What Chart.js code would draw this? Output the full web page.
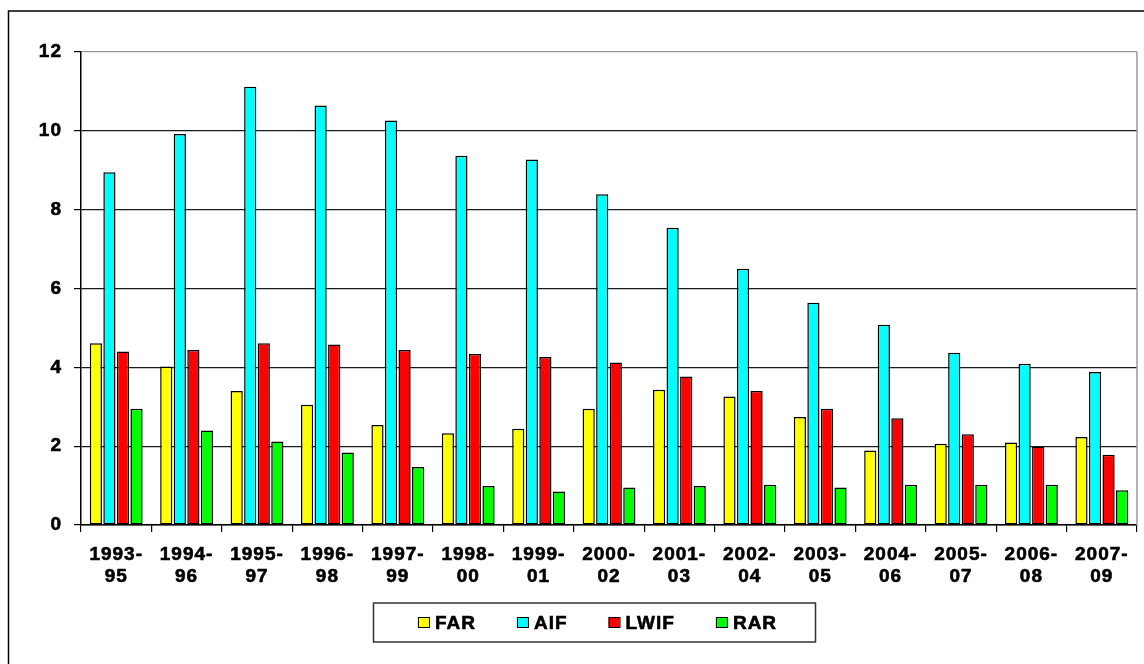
<!DOCTYPE html>
<html>
<head>
<meta charset="utf-8">
<script src="https://cdn.jsdelivr.net/npm/chart.js@4.4.1/dist/chart.umd.min.js"></script>
<style>
  html, body { margin: 0; padding: 0; background: #fff; }
  canvas { display: block; }
</style>
</head>
<body>
<canvas id="c" width="1144" height="664"></canvas>
<script>
// Periods (two-line tick labels)
const periods = [
  ['1993-', '95'], ['1994-', '96'], ['1995-', '97'], ['1996-', '98'], ['1997-', '99'],
  ['1998-', '00'], ['1999-', '01'], ['2000-', '02'], ['2001-', '03'], ['2002-', '04'],
  ['2003-', '05'], ['2004-', '06'], ['2005-', '07'], ['2006-', '08'], ['2007-', '09']
];

// Series values
const far  = [4.61, 4.02, 3.40, 3.05, 2.54, 2.33, 2.44, 2.95, 3.43, 3.26, 2.74, 1.89, 2.06, 2.09, 2.23];
const aif  = [8.95, 9.92, 11.12, 10.64, 10.26, 9.37, 9.27, 8.39, 7.54, 6.50, 5.64, 5.08, 4.37, 4.09, 3.88];
const lwif = [4.40, 4.44, 4.61, 4.58, 4.44, 4.34, 4.26, 4.12, 3.77, 3.40, 2.95, 2.71, 2.30, 1.99, 1.78];
const rar  = [2.95, 2.40, 2.12, 1.84, 1.47, 0.99, 0.85, 0.95, 0.99, 1.02, 0.95, 1.02, 1.02, 1.02, 0.88];

// Value axis ticks
const yTicks = [0, 2, 4, 6, 8, 10, 12];

const FONT = '"Liberation Sans", Arial, sans-serif';
const FSIZE = 19;
const SPACING = '1px';

function ds(label, data, color) {
  return {
    label, data,
    backgroundColor: color,
    borderColor: '#000',
    borderWidth: 1.5,
    borderSkipped: false,
    categoryPercentage: 0.77,
    barPercentage: 0.9
  };
}

// Frame, plot border, letter spacing and boxed legend
const decor = {
  id: 'decor',
  beforeDraw(chart) {
    chart.ctx.letterSpacing = SPACING;
  },
  afterDatasetsDraw(chart) {
    const { ctx, chartArea: a } = chart;
    ctx.save();
    ctx.strokeStyle = '#9a9a9a';
    ctx.lineWidth = 1.5;
    ctx.beginPath();
    ctx.moveTo(a.right, a.top);
    ctx.lineTo(a.right, a.bottom);
    ctx.stroke();
    ctx.restore();
  },
  afterDraw(chart) {
    const ctx = chart.ctx;
    ctx.save();
    // outer frame
    ctx.strokeStyle = '#000';
    ctx.lineWidth = 1.5;
    ctx.strokeRect(8.5, 11, 1200, 700);

    // legend box
    const box = { left: 373.5, top: 603, right: 815.5, bottom: 642 };
    ctx.strokeStyle = '#333';
    ctx.lineWidth = 1.5;
    ctx.strokeRect(box.left, box.top, box.right - box.left, box.bottom - box.top);

    ctx.font = 'bold ' + FSIZE + 'px ' + FONT;
    ctx.letterSpacing = SPACING;
    ctx.textBaseline = 'middle';
    ctx.textAlign = 'left';
    const sw = 11, gapIn = 6, gapOut = 41;
    const items = chart.data.datasets.map(d => ({ label: d.label, color: d.backgroundColor, w: ctx.measureText(d.label).width }));
    let total = 0;
    items.forEach((it, i) => { total += sw + gapIn + it.w + (i < items.length - 1 ? gapOut : 0); });
    let x = (box.left + box.right) / 2 - total / 2 + 3;
    const cy = (box.top + box.bottom) / 2 + 0.5;
    items.forEach(it => {
      ctx.fillStyle = it.color;
      ctx.fillRect(x, cy - 5.5, sw, 10);
      ctx.strokeStyle = '#000';
      ctx.lineWidth = 1;
      ctx.strokeRect(x + 0.5, cy - 5.5, sw, 10);
      ctx.fillStyle = '#000';
      ctx.lineWidth = 0.6;
      ctx.fillText(it.label, x + sw + gapIn, cy + 1);
      ctx.strokeText(it.label, x + sw + gapIn, cy + 1);
      x += sw + gapIn + it.w + gapOut;
    });
    ctx.restore();
    ctx.letterSpacing = '0px';
  }
};

new Chart(document.getElementById('c'), {
  type: 'bar',
  data: {
    labels: periods,
    datasets: [
      ds('FAR', far, '#ffff00'),
      ds('AIF', aif, '#00ffff'),
      ds('LWIF', lwif, '#ff0000'),
      ds('RAR', rar, '#00ff00')
    ]
  },
  options: {
    responsive: false,
    animation: false,
    devicePixelRatio: 1,
    layout: { padding: { top: 52, right: 7, bottom: 0, left: 0 } },
    plugins: {
      legend: { display: false },
      tooltip: { enabled: false }
    },
    scales: {
      x: {
        offset: true,
        grid: {
          offset: true,
          drawOnChartArea: false,
          drawTicks: true,
          tickLength: 7,
          color: '#000',
          lineWidth: 1.2
        },
        border: { color: '#000', width: 1.5 },
        ticks: {
          color: '#000',
          padding: 12,
          maxRotation: 0,
          autoSkip: false,
          textStrokeColor: '#000',
          textStrokeWidth: 0.6,
          font: { family: FONT, size: FSIZE, weight: 'bold', lineHeight: 1.16 }
        },
        afterFit(s) { s.height = 664 - 525; }
      },
      y: {
        min: 0,
        max: 12,
        afterBuildTicks(s) { s.ticks = yTicks.map(v => ({ value: v })); },
        grid: {
          tickLength: 7,
          color: ctx => (ctx.tick && ctx.tick.value === 12 ? '#9a9a9a' : '#1a1a1a'),
          tickColor: '#000',
          lineWidth: 1.2
        },
        border: { color: '#000', width: 1.5 },
        ticks: {
          color: '#000',
          padding: 12,
          textStrokeColor: '#000',
          textStrokeWidth: 0.6,
          font: { family: FONT, size: FSIZE, weight: 'bold' }
        },
        afterFit(s) { s.width = 81; }
      }
    }
  },
  plugins: [decor]
});
</script>
</body>
</html>
